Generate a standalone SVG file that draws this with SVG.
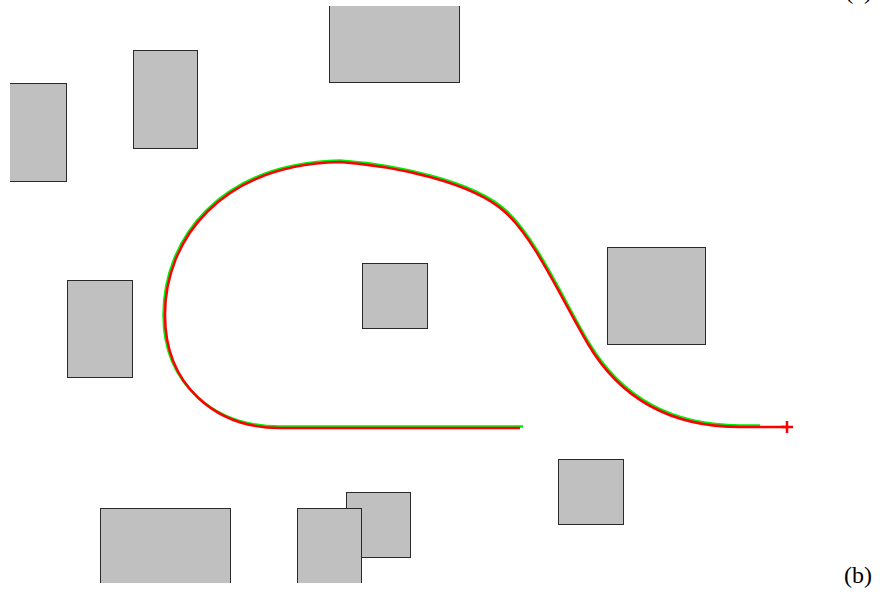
<svg xmlns="http://www.w3.org/2000/svg" width="880" height="596" viewBox="0 0 880 596">
<style>
.ob{fill:#c0c0c0;stroke:#2a2a2a;stroke-width:1}
.tr{fill:none;stroke-width:2.5;stroke-linejoin:round;stroke-linecap:butt}
.lbl{font-family:"Liberation Serif","DejaVu Serif",serif;font-size:24px;fill:#000}
</style>
<defs>
<clipPath id="plot"><rect x="10" y="6" width="860" height="577"/></clipPath>
<path id="traj" d="M 520 428 L 280 428 C 215 428 165 385 165 315 C 165 240 220 165 340 162 C 395 166 472 182 505 212 C 535 239 562 300 588 344 C 620 398 670 427 740 427 L 787 427"/>
</defs>
<rect x="0" y="0" width="880" height="596" fill="#fff"/>
<g clip-path="url(#plot)">
<g id="obstacle1"><rect class="ob" x="9.5" y="83.5" width="57" height="98"/></g>
<g id="obstacle2"><rect class="ob" x="133.5" y="50.5" width="64" height="98"/></g>
<g id="obstacle3"><rect class="ob" x="329.5" y="5.5" width="130" height="77"/></g>
<g id="obstacle4"><rect class="ob" x="362.5" y="263.5" width="65" height="65"/></g>
<g id="obstacle5"><rect class="ob" x="67.5" y="280.5" width="65" height="97"/></g>
<g id="obstacle6"><rect class="ob" x="607.5" y="247.5" width="98" height="97"/></g>
<g id="obstacle7"><rect class="ob" x="558.5" y="459.5" width="65" height="65"/></g>
<g id="obstacle8"><rect class="ob" x="100.5" y="508.5" width="130" height="80"/></g>
<g id="obstacle9"><rect class="ob" x="346.5" y="492.5" width="64" height="65"/></g>
<g id="obstacle10"><rect class="ob" x="297.5" y="508.5" width="64" height="80"/></g>
</g>
<g id="connectors">
<path class="tr" stroke="#00ee00" d="M 523 426.5 L 280 426.5 C 214 426.5 163.5 384 163.5 315 C 163.5 239 219 163.5 340 160.5 C 395 164.5 473 180.5 506 210.5 C 536 237.5 563 299 589 343 C 621 396.5 670 425.5 740 425.5 L 760 425.5"/>
<use href="#traj" class="tr" stroke="#ff0000"/>
<path d="M 781 427 H 793 M 787 421 V 433" stroke="#ff0000" stroke-width="2.5" fill="none"/>
</g>
<text class="lbl" x="872" y="-1" text-anchor="end">(a)</text>
<text class="lbl" x="872" y="583" text-anchor="end">(b)</text>
</svg>
